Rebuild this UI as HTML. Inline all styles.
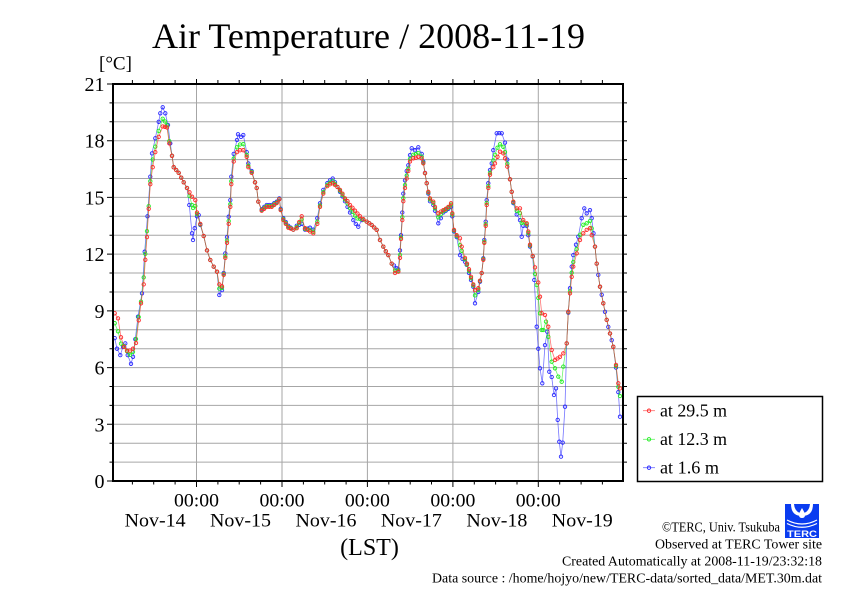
<!DOCTYPE html>
<html><head><meta charset="utf-8">
<style>
html,body{margin:0;padding:0;background:#fff;}
svg{display:block;}
text{font-family:"Liberation Serif","DejaVu Serif",serif;fill:#000;}
</style></head><body>
<svg width="842" height="595" viewBox="0 0 842 595" xmlns="http://www.w3.org/2000/svg">
<defs>
<marker id="mR" markerUnits="userSpaceOnUse" markerWidth="6" markerHeight="6" refX="3" refY="3" viewBox="0 0 6 6"><circle cx="3" cy="3" r="1.7" fill="none" stroke="#ff2a2a" stroke-width="0.9"/></marker>
<marker id="mG" markerUnits="userSpaceOnUse" markerWidth="6" markerHeight="6" refX="3" refY="3" viewBox="0 0 6 6"><circle cx="3" cy="3" r="1.7" fill="none" stroke="#22ee22" stroke-width="0.9"/></marker>
<marker id="mB" markerUnits="userSpaceOnUse" markerWidth="6" markerHeight="6" refX="3" refY="3" viewBox="0 0 6 6"><circle cx="3" cy="3" r="1.7" fill="none" stroke="#2a2aff" stroke-width="0.9"/></marker>
</defs>
<rect width="842" height="595" fill="#fff"/>

<!-- grid -->
<g stroke="#a6a6a6" stroke-width="1" fill="none">
<path d="M113 462.1H623M113 443.2H623M113 424.3H623M113 405.4H623M113 386.5H623M113 367.6H623M113 348.7H623M113 329.8H623M113 310.9H623M113 292H623M113 273H623M113 254.1H623M113 235.2H623M113 216.3H623M113 197.4H623M113 178.5H623M113 159.6H623M113 140.7H623M113 121.8H623M113 102.9H623"/>
<path d="M196.5 84V481M282 84V481M367.4 84V481M452.9 84V481M538.3 84V481"/>
</g>

<!-- series -->
<polyline fill="none" stroke="#2a2aff" stroke-width="0.8" stroke-opacity="0.65" marker-start="url(#mB)" marker-mid="url(#mB)" marker-end="url(#mB)" points="114.7,338.1 117,348.7 120.3,355.1 123,346.8 125.3,343.4 127.7,355.1 131,363.8 133,356.8 135.3,339.2 138,316.7 142,293.3 144.7,251.7 147.5,216.3 150.3,176.6 152,153.4 155.3,138.3 158.7,121.8 160.3,113.3 162.7,107.3 165.3,113.3 168,125.0 170.3,143.4 172,155.8 173.7,167.2 176.2,170.0 178.7,172.9 181.2,177.6 183.7,182.3 187,188.0 189.3,205.0 192,233.3 193,240.0 194.7,228.2 197,216.3 198.7,215.0 200.3,225.0 203.7,236.0 207,250.4 210.3,260.0 213.7,266.6 217,271.7 219.3,295.0 222,290.1 223.7,273.0 225.3,253.4 227,237.1 228.7,216.7 230.3,200.1 231.3,176.6 233.7,153.9 237,140.0 238,134.3 241,136.9 243.3,135.0 246.7,152.1 248.3,163.4 251.7,171.0 255,182.3 256.7,188.0 258.3,201.6 261.7,209.3 264.2,206.9 266.7,205.0 269.2,205.0 271.7,205.0 274.2,203.1 276.7,201.6 279.3,198.4 280.7,208.8 283.3,218.2 285.8,222.0 288.3,225.8 290.8,227.7 293.3,229.6 296.7,225.8 299.2,224.8 301.7,223.9 305,229.6 307.5,228.6 310,227.7 313.3,229.6 317.3,218.2 320,203.3 323.3,189.9 327.3,183.2 330,180.4 332.7,178.5 335,182.3 337.5,187.0 340,191.8 342.5,196.5 345,201.2 347.5,206.9 350,212.5 353.3,220.1 355.8,223.9 358.3,226.7 362,220.1 366.7,221.6 369.2,223.3 371.7,225.0 374.2,227.5 376.7,229.9 380,240.0 383.3,246.6 385.8,251.3 388.3,255.1 391.7,263.6 394,265.5 396.7,268.3 398.3,269.3 400,250.4 401,235.2 402.3,212.5 403.3,193.6 405,180.4 406.7,171.0 408.3,165.3 410,155.1 411.7,148.3 415,150.2 418.3,147.3 421.7,153.9 423.3,161.5 425,172.9 426.7,183.2 428.3,193.6 430,201.2 433.3,205.0 435,210.7 438.3,223.3 440.8,218.2 443.3,212.5 445.8,210.7 448.3,208.8 451,206.9 452.3,216.3 454,231.5 456.7,237.1 460,255.1 462.5,258.9 465,261.7 466.7,264.9 469,273.0 471,280.0 473.3,286.7 475,303.3 478.3,292.0 480,281.7 481.7,273.0 483.3,258.3 484.3,240.0 485.7,221.6 486.7,200.1 488.3,183.2 490,170.0 491.7,163.4 493.3,150.2 496.7,133.3 499.2,133.1 501.7,133.3 505,142.6 507.3,159.6 510,179.3 511.7,191.8 513.3,203.1 516.7,214.4 520,220.1 521.7,236.7 523.3,225.8 526.7,225.8 528.3,235.2 530,246.6 532.7,256.6 534.3,280.0 536.7,326.7 538.3,348.7 540,368.3 542.3,383.3 545,345.1 547.3,331.7 549.3,371.7 551.7,377.0 554,395.0 556,388.4 557.7,419.9 559.3,441.7 561,456.6 562.7,442.6 565,406.7 566.7,343.4 568.3,312.7 570,288.2 571.7,266.6 573.3,255.1 576,244.7 578.3,236.7 581.7,218.2 584.3,208.4 586.7,213.3 590,210.1 591.7,218.2 593.5,233.3 595,246.6 596.7,263.6 598.3,274.9 600,286.7 601.7,294.8 603.3,303.3 605,311.8 606.7,319.9 608.3,326.9 610,333.5 611.7,340.2 613.3,346.8 616,367.6 618.3,392.1 620,416.7"/>

<polyline fill="none" stroke="#22ee22" stroke-width="0.8" stroke-opacity="0.65" marker-start="url(#mG)" marker-mid="url(#mG)" marker-end="url(#mG)" points="114.7,323.2 118,331.3 121,343.6 124,346.1 127,351.2 130,354.8 133,351.9 136,339.0 138.7,317.0 141,301.6 143.7,277.4 145.3,253.9 147,231.1 148.7,206.1 150.3,181.2 152.7,159.5 155.3,146.6 158.7,130.9 162.7,118.8 165,121.5 167,125.3 169.3,141.2 172,155.8 173.7,167.2 176.2,170.0 178.7,172.9 181.2,177.6 183.7,182.3 187,188.0 189.5,196.0 192,205.0 193,208.0 195.3,206.0 197,214.0 200.3,224.3 203.7,236.0 207,250.4 210.3,260.0 213.7,266.6 217,271.7 219.3,288.6 222,287.8 223.7,274.1 225.3,256.1 227,240.5 228.7,221.0 230.3,204.2 231.3,181.2 233.7,158.5 237,147.3 240,144.5 243.3,144.1 246.7,154.9 248.3,165.7 251.7,172.1 255,182.3 256.7,188.0 258.3,201.6 261.7,210.1 264.2,208.0 266.7,206.1 269.2,206.1 271.7,206.1 274.2,204.3 276.7,202.5 279.3,199.0 280.7,209.6 283.3,219.3 285.8,223.1 288.3,226.9 290.8,228.2 293.3,229.6 296.7,227.2 299.2,223.1 301.7,219.3 305,228.8 307.5,229.4 310,230.0 313.3,231.8 317.3,221.6 320,205.5 323.3,192.1 327.3,184.9 330,182.7 332.7,181.3 335,183.9 337.5,187.0 340,190.7 342.5,194.8 345,199.5 347.5,203.5 350,208.0 352.5,211.9 355,215.6 357.5,218.5 360,219.0 363.3,219.7 366.7,221.6 369.2,223.3 371.7,225.0 374.2,227.5 376.7,229.9 380,240.0 383.3,246.6 385.8,251.3 388.3,255.1 391.7,263.6 395,270.5 398.3,270.7 400,254.9 401,237.5 402.3,217.1 403.3,198.2 405,185.0 406.7,175.5 408.3,168.7 410,158.9 413.3,154.8 415.8,154.2 418.3,153.0 421.7,156.5 423.3,162.6 425,173.1 426.7,183.2 428.3,192.5 430,199.5 433.3,203.0 435,208.4 438.3,217.3 440.8,214.2 443.3,211.1 445.8,209.6 448.3,207.7 451,204.7 452.3,214.5 454,230.5 456.7,236.0 460,245.0 461.7,250.8 465,259.4 467,264.6 469,270.8 471,278.1 473.3,285.3 475,295.4 478.3,289.7 480,281.0 481.7,273.0 483.3,259.2 484.3,241.7 485.7,224.1 486.7,203.0 488.3,186.1 490,172.8 493.3,160.4 495,154.8 497.5,147.7 500,144.3 503.3,146.8 505,152.0 507.3,163.8 510,179.3 511.7,191.8 513.3,202.2 516.7,210.8 520,213.1 521.7,223.0 523.3,222.4 526.7,224.3 528.3,233.0 530,245.5 532.7,256.2 535,274.0 536.7,285.0 538.3,298.0 540,313.3 541.7,330.0 543.3,330.0 546,321.6 548.3,336.8 551.7,361.7 555,368.3 558.3,376.6 561.7,381.7 563.3,366.6 566.7,343.4 568.3,312.0 570,291.3 571.7,272.7 573.3,262.0 576.7,249.2 580,234.8 583.3,224.8 586.7,223.3 590,221.0 591.7,228.4 595,246.6 596.7,263.6 600,286.7 603.3,303.3 606.7,319.9 610,333.5 613.3,346.8 616,366.0 618.3,386.8 620,396.0"/>

<polyline fill="none" stroke="#ff2a2a" stroke-width="0.8" stroke-opacity="0.65" marker-start="url(#mR)" marker-mid="url(#mR)" marker-end="url(#mR)" points="114.7,313.3 118,318.4 121,337.3 124,346.8 127,350.6 130,350.6 133,348.7 136,343.0 138.7,320.3 141,303.3 143.7,284.4 145.3,259.8 147,237.1 148.7,208.8 150.3,184.2 152.7,167.2 155.3,152.1 158.7,136.9 162.7,126.5 165,126.8 167,127.5 169.3,143.4 172,155.8 173.7,167.2 176.2,170.0 178.7,172.9 181.2,177.6 183.7,182.3 187,188.0 189.5,192.3 192,196.7 195.3,200.1 197,212.5 200.3,223.9 203.7,236.0 207,250.4 210.3,260.0 213.7,266.6 217,271.7 219.3,284.4 222,286.3 223.7,274.9 225.3,257.9 227,242.8 228.7,223.9 230.3,206.9 231.3,184.2 233.7,161.5 237,152.1 240,150.2 243.3,150.2 246.7,156.8 248.3,167.2 251.7,172.9 255,182.3 256.7,188.0 258.3,201.6 261.7,210.7 264.2,208.8 266.7,206.9 269.2,206.9 271.7,206.9 274.2,205.0 276.7,203.1 279.3,199.3 280.7,210.1 283.3,220.1 285.8,223.9 288.3,227.7 290.8,228.6 293.3,229.6 296.7,228.2 299.2,222.0 301.7,216.3 305,228.2 307.5,229.9 310,231.5 313.3,233.3 317.3,223.9 320,206.9 323.3,193.6 327.3,186.1 330,184.2 332.7,183.2 335,185.0 337.5,187.0 340,189.9 342.5,193.6 345,198.4 347.5,201.2 350,205.0 352.5,207.8 355,210.7 357.5,213.5 360,216.3 363.3,219.2 366.7,221.6 369.2,223.3 371.7,225.0 374.2,227.5 376.7,229.9 380,240.0 383.3,246.6 385.8,251.3 388.3,255.1 391.7,263.6 395,273.0 398.3,271.7 400,257.9 401,239.0 402.3,220.1 403.3,201.2 405,188.0 406.7,178.5 408.3,171.0 410,161.5 413.3,158.3 415.8,157.7 418.3,156.8 421.7,158.3 423.3,163.4 425,173.2 426.7,183.2 428.3,191.8 430,198.4 433.3,201.6 435,206.9 438.3,213.3 440.8,211.6 443.3,210.1 445.8,208.8 448.3,206.9 451,203.3 452.3,213.3 454,229.9 456.7,235.2 460,238.3 461.7,246.6 465,257.9 467,263.6 469,269.3 471,276.8 473.3,284.4 475,290.1 478.3,288.2 480,280.6 481.7,273.0 483.3,259.8 484.3,242.8 485.7,225.8 486.7,205.0 488.3,188.0 490,174.7 493.3,167.2 495,163.4 497.5,156.8 500,151.7 503.3,153.4 505,158.3 507.3,166.6 510,179.3 511.7,191.8 513.3,201.6 516.7,208.4 520,208.4 523.3,220.1 526.7,223.3 528.3,231.5 530,244.7 532.7,256.0 535,267.4 538.3,282.5 540,296.7 541.7,313.3 545,315.0 548.3,326.7 551.7,350.0 555,360.0 557.5,358.5 560,356.8 563.3,353.4 566.7,343.4 568.3,311.6 570,293.3 571.7,276.8 573.3,266.6 576.7,253.4 580,240.0 583.3,233.3 586.7,229.9 590,228.2 591.7,235.2 595,246.6 596.7,263.6 600,286.7 603.3,303.3 606.7,319.9 610,333.5 613.3,346.8 616,364.9 618.3,383.3 620,388.4"/>

<!-- axes -->
<g stroke="#000" fill="none">
<rect x="113" y="84" width="510" height="397" stroke-width="2"/>
<path stroke-width="1" d="M132.4 482V484.5M153.7 482V484.5M175.1 482V484.5M196.5 482V487M217.9 482V484.5M239.2 482V484.5M260.6 482V484.5M282 482V487M303.4 482V484.5M324.7 482V484.5M346.1 482V484.5M367.4 482V487M388.8 482V484.5M410.2 482V484.5M431.5 482V484.5M452.9 482V487M474.3 482V484.5M495.6 482V484.5M517 482V484.5M538.3 482V487M559.7 482V484.5M581.1 482V484.5M602.4 482V484.5"/>
<path stroke-width="1" d="M132.4 83V80M153.7 83V80M175.1 83V80M196.5 83V79M217.9 83V80M239.2 83V80M260.6 83V80M282 83V79M303.4 83V80M324.7 83V80M346.1 83V80M367.4 83V79M388.8 83V80M410.2 83V80M431.5 83V80M452.9 83V79M474.3 83V80M495.6 83V80M517 83V80M538.3 83V79M559.7 83V80M581.1 83V80M602.4 83V80"/>
<path stroke-width="1" d="M112 481H107M112 462.1H109.5M112 443.2H109.5M112 424.3H107M112 405.4H109.5M112 386.5H109.5M112 367.6H107M112 348.7H109.5M112 329.8H109.5M112 310.9H107M112 292H109.5M112 273H109.5M112 254.1H107M112 235.2H109.5M112 216.3H109.5M112 197.4H107M112 178.5H109.5M112 159.6H109.5M112 140.7H107M112 121.8H109.5M112 102.9H109.5M112 84H107"/>
<path stroke-width="1" d="M624 462.1H627M624 443.2H627M624 424.3H627M624 405.4H627M624 386.5H627M624 367.6H627M624 348.7H627M624 329.8H627M624 310.9H627M624 292H627M624 273H627M624 254.1H627M624 235.2H627M624 216.3H627M624 197.4H627M624 178.5H627M624 159.6H627M624 140.7H627M624 121.8H627M624 102.9H627"/>
</g>

<text x="152" y="48" font-size="36" textLength="433" lengthAdjust="spacingAndGlyphs">Air Temperature / 2008-11-19</text>
<text x="99" y="69.5" font-size="19">[°C]</text>

<g font-size="20" text-anchor="end">
<text x="104.5" y="488">0</text>
<text x="104.5" y="431.3">3</text>
<text x="104.5" y="374.6">6</text>
<text x="104.5" y="317.9">9</text>
<text x="104.5" y="261.1">12</text>
<text x="104.5" y="204.4">15</text>
<text x="104.5" y="147.7">18</text>
<text x="104.5" y="91">21</text>
</g>

<g font-size="19">
<text x="174" y="506.7" textLength="45" lengthAdjust="spacingAndGlyphs">00:00</text>
<text x="259.5" y="506.7" textLength="45" lengthAdjust="spacingAndGlyphs">00:00</text>
<text x="344.9" y="506.7" textLength="45" lengthAdjust="spacingAndGlyphs">00:00</text>
<text x="430.4" y="506.7" textLength="45" lengthAdjust="spacingAndGlyphs">00:00</text>
<text x="515.8" y="506.7" textLength="45" lengthAdjust="spacingAndGlyphs">00:00</text>
<text x="124.6" y="526.7" textLength="61" lengthAdjust="spacingAndGlyphs">Nov-14</text>
<text x="210" y="526.7" textLength="61" lengthAdjust="spacingAndGlyphs">Nov-15</text>
<text x="295.5" y="526.7" textLength="61" lengthAdjust="spacingAndGlyphs">Nov-16</text>
<text x="380.9" y="526.7" textLength="61" lengthAdjust="spacingAndGlyphs">Nov-17</text>
<text x="466.4" y="526.7" textLength="61" lengthAdjust="spacingAndGlyphs">Nov-18</text>
<text x="551.8" y="526.7" textLength="61" lengthAdjust="spacingAndGlyphs">Nov-19</text>
</g>
<text x="369.5" y="555" font-size="24" text-anchor="middle">(LST)</text>

<rect x="637.5" y="396.5" width="185" height="85" fill="#fff" stroke="#000" stroke-width="1.5"/>
<line x1="643" x2="655" y1="410.7" y2="410.7" stroke="#ff2a2a" stroke-width="0.8" stroke-opacity="0.7"/>
<circle cx="649" cy="410.7" r="1.7" fill="none" stroke="#ff2a2a" stroke-width="0.9"/>
<line x1="643" x2="655" y1="439.3" y2="439.3" stroke="#22ee22" stroke-width="0.8" stroke-opacity="0.7"/>
<circle cx="649" cy="439.3" r="1.7" fill="none" stroke="#22ee22" stroke-width="0.9"/>
<line x1="643" x2="655" y1="467.7" y2="467.7" stroke="#2a2aff" stroke-width="0.8" stroke-opacity="0.7"/>
<circle cx="649" cy="467.7" r="1.7" fill="none" stroke="#2a2aff" stroke-width="0.9"/>
<text x="660" y="416.5" font-size="18" textLength="67" lengthAdjust="spacingAndGlyphs">at 29.5 m</text>
<text x="660" y="445" font-size="18" textLength="67" lengthAdjust="spacingAndGlyphs">at 12.3 m</text>
<text x="660" y="473.5" font-size="18" textLength="59" lengthAdjust="spacingAndGlyphs">at 1.6 m</text>

<text x="662" y="531.5" font-size="14" textLength="118" lengthAdjust="spacingAndGlyphs">©TERC, Univ. Tsukuba</text>
<text x="655" y="548.5" font-size="14" textLength="167" lengthAdjust="spacingAndGlyphs">Observed at TERC Tower site</text>
<text x="562" y="565.5" font-size="14" textLength="260" lengthAdjust="spacingAndGlyphs">Created Automatically at 2008-11-19/23:32:18</text>
<text x="432" y="582.5" font-size="14" textLength="390" lengthAdjust="spacingAndGlyphs">Data source : /home/hojyo/new/TERC-data/sorted_data/MET.30m.dat</text>

<g>
  <rect x="785" y="504" width="34" height="34" fill="#0a3cf0"/>
  <path d="M791 504 Q791 516 802 516 Q813 516 813 504 Z" fill="#fff"/>
  <path d="M794 504 Q795 513 802 513 Q809 513 810 504 Z" fill="#0a3cf0"/>
  <path d="M802 508 Q799 513 799 515 Q799 518 802 518 Q805 518 805 515 Q805 513 802 508 Z" fill="#fff"/>
  <path d="M787 520 Q802 528 817 520" stroke="#fff" stroke-width="1.2" fill="none"/>
  <path d="M787 523.5 Q802 531 817 523.5" stroke="#fff" stroke-width="1.2" fill="none"/>
  <rect x="785" y="528" width="34" height="10" fill="#0a3cf0"/>
  <text x="787" y="537" font-size="9.5" font-weight="bold" style="fill:#fff;font-family:'Liberation Sans',sans-serif" textLength="30" lengthAdjust="spacingAndGlyphs">TERC</text>
</g>
</svg>
</body></html>
